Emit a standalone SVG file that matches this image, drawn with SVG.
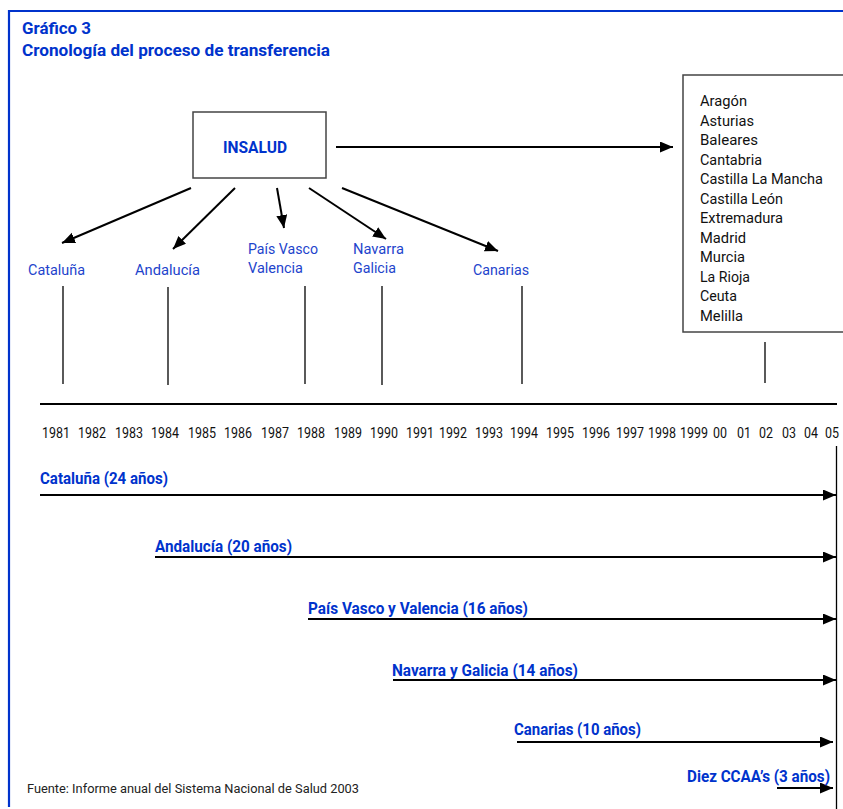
<svg xmlns="http://www.w3.org/2000/svg" width="843" height="809" viewBox="0 0 843 809">
<defs>
<marker id="ah" markerUnits="userSpaceOnUse" markerWidth="14" markerHeight="12" refX="13" refY="5.5" orient="auto">
<path d="M0,0 L13,5.5 L0,11 z" fill="#000"/>
</marker>
<style>
.frame{stroke:#0033cc;stroke-width:2.2;fill:none}
.title{font-family:"Liberation Sans Narrow","Roboto","Liberation Sans",sans-serif;font-weight:bold;font-size:17px;fill:#0033cc}
.lbl{font-family:"Liberation Sans Narrow","Roboto","Liberation Sans",sans-serif;font-size:15px;fill:#1e44cc}
.blbl{font-family:"Liberation Sans Narrow","Roboto","Liberation Sans",sans-serif;font-weight:bold;font-size:16px;fill:#0033cc}
.txt{font-family:"Liberation Sans Narrow","Roboto","Liberation Sans",sans-serif;font-size:15px;fill:#111}
.yr{font-family:"Liberation Sans Narrow","Roboto","Liberation Sans",sans-serif;font-size:14px;fill:#111}
.foot{font-family:"Liberation Sans Narrow","Roboto","Liberation Sans",sans-serif;font-size:12.5px;fill:#222}
.conn{stroke:#000;stroke-width:2;fill:none}
.tl{stroke:#000;stroke-width:2;fill:none}
.vl{stroke:#000;stroke-width:1.3;fill:none}
.box{fill:#fff;stroke:#444;stroke-width:1.5}
</style>
</defs>
<rect width="843" height="809" fill="#fff"/>
<g id="frame">
<path class="frame" d="M9,807 L9,11 L843,11"/>
</g>
<g id="title">
<text class="title" x="22" y="34" textLength="69" lengthAdjust="spacingAndGlyphs">Gráfico 3</text>
<text class="title" x="22" y="56" textLength="308" lengthAdjust="spacingAndGlyphs">Cronología del proceso de transferencia</text>
</g>
<g id="insalud">
<rect class="box" x="193" y="112" width="133" height="66" stroke="#333"/>
<text class="blbl" x="223" y="153" textLength="64" lengthAdjust="spacingAndGlyphs">INSALUD</text>
</g>
<g id="resto">
<rect class="box" x="683" y="75" width="200" height="257"/>
<text class="txt" x="700" y="106" textLength="47" lengthAdjust="spacingAndGlyphs">Aragón</text>
<text class="txt" x="700" y="125.5" textLength="54" lengthAdjust="spacingAndGlyphs">Asturias</text>
<text class="txt" x="700" y="145" textLength="58" lengthAdjust="spacingAndGlyphs">Baleares</text>
<text class="txt" x="700" y="164.5" textLength="62" lengthAdjust="spacingAndGlyphs">Cantabria</text>
<text class="txt" x="700" y="184" textLength="123" lengthAdjust="spacingAndGlyphs">Castilla La Mancha</text>
<text class="txt" x="700" y="203.5" textLength="83" lengthAdjust="spacingAndGlyphs">Castilla León</text>
<text class="txt" x="700" y="223" textLength="83" lengthAdjust="spacingAndGlyphs">Extremadura</text>
<text class="txt" x="700" y="242.5" textLength="46" lengthAdjust="spacingAndGlyphs">Madrid</text>
<text class="txt" x="700" y="262" textLength="45" lengthAdjust="spacingAndGlyphs">Murcia</text>
<text class="txt" x="700" y="281.5" textLength="50" lengthAdjust="spacingAndGlyphs">La Rioja</text>
<text class="txt" x="700" y="301" textLength="37" lengthAdjust="spacingAndGlyphs">Ceuta</text>
<text class="txt" x="700" y="320.5" textLength="43" lengthAdjust="spacingAndGlyphs">Melilla</text>
</g>
<g id="n-cataluna">
<text class="lbl" x="28" y="275" textLength="57" lengthAdjust="spacingAndGlyphs">Cataluña</text>
</g>
<g id="n-andalucia">
<text class="lbl" x="135" y="275" textLength="65" lengthAdjust="spacingAndGlyphs">Andalucía</text>
</g>
<g id="n-paisvasco">
<text class="lbl" x="248" y="254" textLength="70" lengthAdjust="spacingAndGlyphs">País Vasco</text>
<text class="lbl" x="248" y="273" textLength="55" lengthAdjust="spacingAndGlyphs">Valencia</text>
</g>
<g id="n-navarra">
<text class="lbl" x="353" y="254" textLength="51" lengthAdjust="spacingAndGlyphs">Navarra</text>
<text class="lbl" x="353" y="273" textLength="43" lengthAdjust="spacingAndGlyphs">Galicia</text>
</g>
<g id="n-canarias">
<text class="lbl" x="473" y="275" textLength="56" lengthAdjust="spacingAndGlyphs">Canarias</text>
</g>
<g id="axis">
<line class="tl" x1="40" y1="404" x2="837" y2="404" stroke-width="1.8"/>
<text class="yr" x="42" y="438" textLength="28" lengthAdjust="spacingAndGlyphs">1981</text>
<text class="yr" x="78" y="438" textLength="28" lengthAdjust="spacingAndGlyphs">1982</text>
<text class="yr" x="115" y="438" textLength="28" lengthAdjust="spacingAndGlyphs">1983</text>
<text class="yr" x="151" y="438" textLength="28" lengthAdjust="spacingAndGlyphs">1984</text>
<text class="yr" x="188" y="438" textLength="28" lengthAdjust="spacingAndGlyphs">1985</text>
<text class="yr" x="224" y="438" textLength="28" lengthAdjust="spacingAndGlyphs">1986</text>
<text class="yr" x="261" y="438" textLength="28" lengthAdjust="spacingAndGlyphs">1987</text>
<text class="yr" x="297" y="438" textLength="28" lengthAdjust="spacingAndGlyphs">1988</text>
<text class="yr" x="334" y="438" textLength="28" lengthAdjust="spacingAndGlyphs">1989</text>
<text class="yr" x="370" y="438" textLength="28" lengthAdjust="spacingAndGlyphs">1990</text>
<text class="yr" x="406" y="438" textLength="28" lengthAdjust="spacingAndGlyphs">1991</text>
<text class="yr" x="439" y="438" textLength="28" lengthAdjust="spacingAndGlyphs">1992</text>
<text class="yr" x="475" y="438" textLength="28" lengthAdjust="spacingAndGlyphs">1993</text>
<text class="yr" x="510" y="438" textLength="28" lengthAdjust="spacingAndGlyphs">1994</text>
<text class="yr" x="546" y="438" textLength="28" lengthAdjust="spacingAndGlyphs">1995</text>
<text class="yr" x="582" y="438" textLength="28" lengthAdjust="spacingAndGlyphs">1996</text>
<text class="yr" x="616" y="438" textLength="28" lengthAdjust="spacingAndGlyphs">1997</text>
<text class="yr" x="648" y="438" textLength="28" lengthAdjust="spacingAndGlyphs">1998</text>
<text class="yr" x="680" y="438" textLength="28" lengthAdjust="spacingAndGlyphs">1999</text>
<text class="yr" x="713" y="438" textLength="14" lengthAdjust="spacingAndGlyphs">00</text>
<text class="yr" x="737" y="438" textLength="14" lengthAdjust="spacingAndGlyphs">01</text>
<text class="yr" x="759" y="438" textLength="14" lengthAdjust="spacingAndGlyphs">02</text>
<text class="yr" x="782" y="438" textLength="14" lengthAdjust="spacingAndGlyphs">03</text>
<text class="yr" x="804" y="438" textLength="14" lengthAdjust="spacingAndGlyphs">04</text>
<text class="yr" x="825" y="438" textLength="14" lengthAdjust="spacingAndGlyphs">05</text>
</g>
<g id="connectors">
<line class="conn" x1="336" y1="147" x2="673" y2="147" marker-end="url(#ah)"/>
<line class="conn" x1="191" y1="188" x2="62" y2="243" marker-end="url(#ah)"/>
<line class="conn" x1="235" y1="188" x2="173" y2="249" marker-end="url(#ah)"/>
<line class="conn" x1="277" y1="188" x2="284" y2="228" marker-end="url(#ah)"/>
<line class="conn" x1="309" y1="188" x2="386" y2="239" marker-end="url(#ah)"/>
<line class="conn" x1="342" y1="188" x2="498" y2="251" marker-end="url(#ah)"/>
<line class="vl" x1="63" y1="286" x2="63" y2="384"/>
<line class="vl" x1="168" y1="287" x2="168" y2="385"/>
<line class="vl" x1="305" y1="286" x2="305" y2="384"/>
<line class="vl" x1="382" y1="286" x2="382" y2="385"/>
<line class="vl" x1="522" y1="286" x2="522" y2="384"/>
<line class="vl" x1="765" y1="342" x2="765" y2="383"/>
<line class="vl" x1="836.5" y1="446" x2="836.5" y2="809" stroke-width="1.5"/>
<line class="tl" x1="40" y1="495" x2="836" y2="495" marker-end="url(#ah)"/>
<line class="tl" x1="155" y1="557" x2="836" y2="557" marker-end="url(#ah)"/>
<line class="tl" x1="308" y1="619" x2="836" y2="619" marker-end="url(#ah)"/>
<line class="tl" x1="393" y1="680" x2="836" y2="680" marker-end="url(#ah)"/>
<line class="tl" x1="517" y1="742" x2="833" y2="742" marker-end="url(#ah)"/>
<line class="tl" x1="777" y1="788" x2="833" y2="788" marker-end="url(#ah)"/>
</g>
<g id="t-cataluna"><text class="blbl" x="40" y="484" textLength="128" lengthAdjust="spacingAndGlyphs">Cataluña (24 años)</text></g>
<g id="t-andalucia"><text class="blbl" x="155" y="552" textLength="137" lengthAdjust="spacingAndGlyphs">Andalucía (20 años)</text></g>
<g id="t-paisvasco"><text class="blbl" x="308" y="614" textLength="220" lengthAdjust="spacingAndGlyphs">País Vasco y Valencia (16 años)</text></g>
<g id="t-navarra"><text class="blbl" x="392" y="676" textLength="186" lengthAdjust="spacingAndGlyphs">Navarra y Galicia (14 años)</text></g>
<g id="t-canarias"><text class="blbl" x="514" y="735" textLength="127" lengthAdjust="spacingAndGlyphs">Canarias (10 años)</text></g>
<g id="t-diez"><text class="blbl" x="687" y="782" textLength="143" lengthAdjust="spacingAndGlyphs">Diez CCAA’s (3 años)</text></g>
<g id="fuente"><text class="foot" x="27" y="793" textLength="332" lengthAdjust="spacingAndGlyphs">Fuente: Informe anual del Sistema Nacional de Salud 2003</text></g>
</svg>
